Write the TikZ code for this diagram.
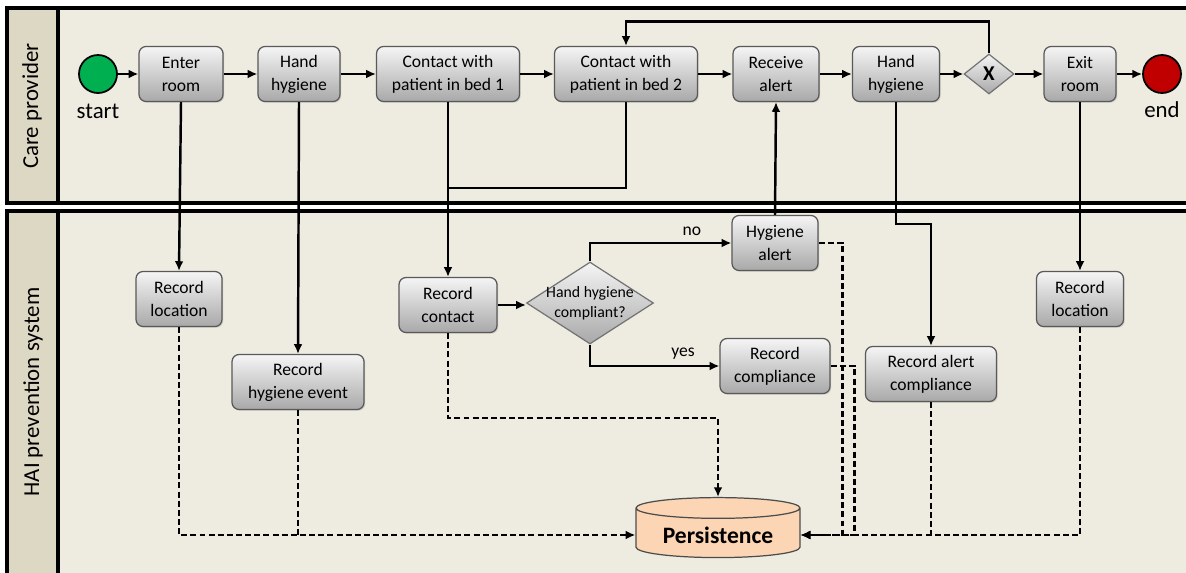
\documentclass[tikz,border=0pt]{standalone}
\usepackage{fontspec}
\setmainfont{Carlito}
\usetikzlibrary{arrows.meta, shapes.geometric, shadows}

\definecolor{lanefill}{HTML}{EEEBE0}
\definecolor{laneside}{HTML}{DDD8C4}
\definecolor{startgreen}{HTML}{00B050}
\definecolor{endred}{HTML}{C00000}
\definecolor{storefill}{HTML}{FCD5B5}

\tikzset{
  task/.style={draw=black!65, line width=0.7pt, rounded corners=4pt,
    top color=white!96!black, bottom color=black!34, align=center,
    font=\fontsize{10}{13}\selectfont, minimum height=1.1cm, inner sep=2pt,
    drop shadow={shadow xshift=0.7pt, shadow yshift=-0.7pt, opacity=0.3}},
  event/.style={circle, draw=black, line width=1pt, minimum size=0.76cm, inner sep=0pt},
  gateway/.style={diamond, draw=black!55, line width=0.7pt, top color=white!96!black,
    bottom color=black!34, inner sep=0pt},
  flow/.style={-{Latex[length=5.5pt,width=5pt]}, line width=1.4pt},
  dataline/.style={line width=1.3pt, dash pattern=on 3.4pt off 1.8pt},
  data/.style={dataline, -{Latex[length=5.5pt,width=5pt]}},
  lane/.style={line width=1.8pt},
  lanelabel/.style={rotate=90, font=\fontsize{13}{15}\selectfont},
}

\begin{document}
\begin{tikzpicture}[x=0.02cm, y=-0.02cm]
  \clip (0,0) rectangle (1186,572);
  \fill[white] (0,0) rectangle (1186,572);

  % swimlanes
  \fill[lanefill] (7,8) rectangle (1200,203);
  \fill[laneside] (7,8) rectangle (58,203);
  \draw[lane] (1200,8) -- (7,8) -- (7,203) -- (1200,203);
  \draw[lane] (58,8) -- (58,203);
  \fill[lanefill] (7,211) rectangle (1200,600);
  \fill[laneside] (7,211) rectangle (58,600);
  \draw[lane] (1200,211) -- (7,211) -- (7,600);
  \draw[lane] (58,211) -- (58,600);
  \node[lanelabel] (carelbl) at (32,106) {Care provider};
  \node[lanelabel] (hailbl) at (33,392) {HAI prevention system};

  % care provider
  \node[event, fill=startgreen, label={[font=\fontsize{13}{15}\selectfont, yshift=-2pt]below:start}] (start) at (98,74) {};
  \node[task, minimum width=1.68cm] (enter) at (181,74) {Enter\\room};
  \node[task, minimum width=1.64cm] (hand) at (299,74) {Hand\\hygiene};
  \node[task, minimum width=2.86cm] (bed1) at (448,74) {Contact with\\patient in bed 1};
  \node[task, minimum width=2.86cm] (bed2) at (626,74) {Contact with\\patient in bed 2};
  \node[task, minimum width=1.72cm] (receive) at (776,74) {Receive\\alert};
  \node[task, minimum width=1.74cm] (handtwo) at (896,74) {Hand\\hygiene};
  \node[gateway, minimum width=1cm, minimum height=0.8cm, font=\fontsize{12}{14}\selectfont\bfseries] (gate) at (989,74) {X};
  \node[task, minimum width=1.44cm] (exit) at (1080,74) {Exit\\room};
  \node[event, fill=endred, label={[font=\fontsize{13}{15}\selectfont, yshift=-1pt]below:end}] (stop) at (1162,74) {};

  % prevention system
  \node[task, minimum width=1.72cm] (recloc) at (179,299) {Record\\location};
  \node[task, minimum width=2.64cm] (rechyg) at (298,382) {Record\\hygiene event};
  \node[task, minimum width=1.96cm] (reccon) at (448,305) {Record\\contact};
  \node[gateway, shape aspect=1.55, inner sep=-3pt, minimum width=2.54cm, minimum height=1.64cm,
    font=\fontsize{9}{11.5}\selectfont, align=center] (check) at (590,303) {Hand hygiene\\compliant?};
  \node[task, minimum width=1.72cm] (alert) at (775,243) {Hygiene\\alert};
  \node[task, minimum width=2.2cm] (reccomp) at (775,366) {Record\\compliance};
  \node[task, minimum width=2.62cm] (recalert) at (931,374) {Record alert\\compliance};
  \node[task, minimum width=1.74cm] (recloctwo) at (1080,299) {Record\\location};
  \node[cylinder, shape border rotate=90, aspect=0.17, draw=black!70, line width=0.7pt,
    fill=storefill, minimum width=3.28cm, minimum height=1.2cm,
    font=\fontsize{13.4}{15}\selectfont\bfseries] (persist) at (718,535) {Persistence};

  % sequence flow
  \draw[flow] (start) -- (enter);
  \draw[flow] (enter) -- (hand);
  \draw[flow] (hand) -- (bed1);
  \draw[flow] (bed1) -- (bed2);
  \draw[flow] (bed2) -- (receive);
  \draw[flow] (receive) -- (handtwo);
  \draw[flow] (handtwo) -- (gate);
  \draw[flow] (gate) -- (exit);
  \draw[flow] (exit) -- (stop);
  \draw[flow] (gate.north) -- ++(0,-32) -| (bed2.north);

  % message flow
  \coordinate (merge) at (448,188);
  \draw[flow] (enter.south) -- (recloc.north);
  \draw[flow] (hand.south) -- (rechyg.north);
  \draw[flow] (bed1.south) -- (reccon.north);
  \draw[line width=1.4pt] (bed2.south) |- (merge);
  \draw[flow] (reccon.east) -- (reccon.east -| check.west);
  \draw[flow] (check.north) |- (alert.west) node[pos=0.86, above, font=\fontsize{10}{12}\selectfont] {no};
  \draw[flow] (check.south) |- (reccomp.west) node[pos=0.86, above, font=\fontsize{10}{12}\selectfont] {yes};
  \draw[flow] (alert.north) -- (receive.south);
  \draw[flow] (handtwo.south) -- ++(0,122) -| (recalert.north);
  \draw[flow] (exit.south) -- (recloctwo.north);

  % data to store
  \draw[data] (recloc.south) |- (persist.west);
  \draw[dataline] (rechyg.south) -- (rechyg.south |- persist.west);
  \draw[data] (reccon.south) -- ++(0,85) -| (persist.north);
  \draw[data] (alert.east) -- ++(24,0) |- (persist.east);
  \draw[data] (reccomp.east) -- ++(24,0) |- (persist.east);
  \draw[dataline] (recalert.south) -- (recalert.south |- persist.east);
  \draw[data] (recloctwo.south) |- (persist.east);
\end{tikzpicture}
\end{document}
